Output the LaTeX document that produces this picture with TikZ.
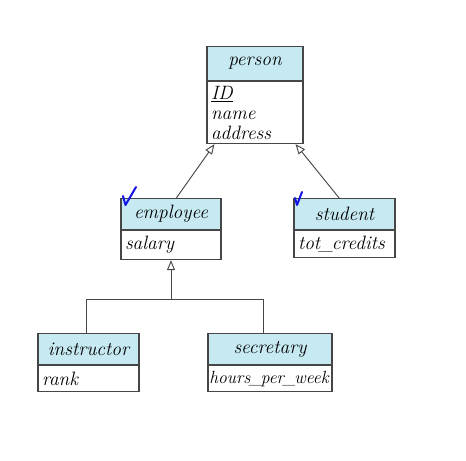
\documentclass[tikz,border=0pt]{standalone}
\usetikzlibrary{positioning,arrows.meta,calc}
\definecolor{headblue}{RGB}{198,233,242}
\definecolor{boxline}{RGB}{70,70,70}
\definecolor{tickblue}{RGB}{20,20,230}
\newcommand{\tightus}{\kern-0.9pt\_\kern-0.9pt}
\begin{document}
\begin{tikzpicture}[x=0.75pt,y=-0.75pt,
	every node/.style={font=\fontsize{14.5}{15}\selectfont\itshape},
	head/.style={draw=boxline,line width=0.8pt,fill=headblue,inner sep=0pt,anchor=north},
	attrs/.style={draw=boxline,line width=0.8pt,fill=white,inner xsep=3pt,inner ysep=0pt,align=left,below=0pt of #1},
	link/.style={draw=boxline,line width=0.7pt},
	isa/.style={link,-{Triangle[open,length=7.5pt,width=6pt]}},
	tick/.style={draw=tickblue,line width=1.5pt,line cap=round,line join=round}]
	\useasboundingbox (0,0) rectangle (466,460);
	
	\node[head,minimum width=72pt,minimum height=25.5pt] (person) at (255,46) {person};
	\node[attrs=person,text width=66pt,minimum height=46.5pt] (person-attr) {\underline{ID}\\name\\address};
	
	\node[head,minimum width=75pt,minimum height=23.25pt] (employee) at (171,198) {employee};
	\node[attrs=employee,text width=69pt,minimum height=21.75pt] (employee-attr) {salary};
	
	\node[head,minimum width=75.75pt,minimum height=23.25pt] (student) at (344.5,198) {student};
	\node[attrs=student,text width=69.75pt,minimum height=20.25pt] (student-attr) {tot\tightus credits};
	
	\node[head,minimum width=75.75pt,minimum height=23.25pt] (instructor) at (88.5,333) {instructor};
	\node[attrs=instructor,text width=69.75pt,minimum height=19.5pt] (instructor-attr) {rank};
	
	\node[head,minimum width=93pt,minimum height=23.25pt] (secretary) at (270,333) {secretary};
	\node[attrs=secretary,inner xsep=1pt,text width=91pt,minimum height=19.5pt,
		font=\fontsize{13.2}{15}\selectfont\itshape] (secretary-attr) {hours\tightus per\tightus week};
	
	% generalisation
	\draw[isa] ([xshift=4pt]employee.north) -- ([xshift=6pt]person-attr.south west);
	\draw[isa] ([xshift=-4pt]student.north) -- ([xshift=-6pt]person-attr.south east);
	
	\coordinate (fork) at ($(employee-attr.south)+(0,39)$);
	\draw[link] ([xshift=-1.8pt]instructor.north) |- (fork) -| ([xshift=-5pt]secretary.north);
	\draw[isa] (fork) -- (employee-attr.south);
	
	% ticks
	\draw[tick] (123,196) -- (125.5,205) -- (136,187);
	\draw[tick] (295,198) -- (297,205) -- (302,192);
\end{tikzpicture}
\end{document}
